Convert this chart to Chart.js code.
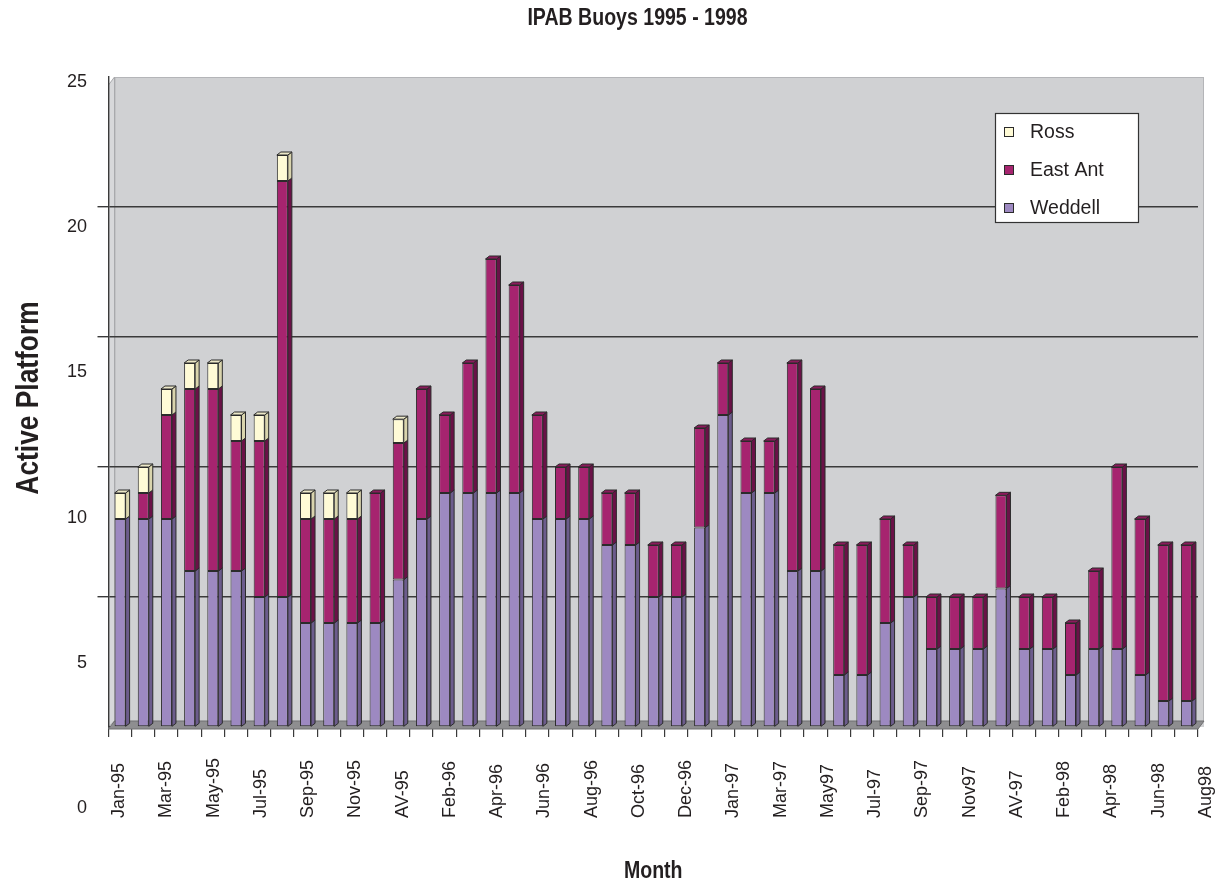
<!DOCTYPE html>
<html>
<head>
<meta charset="utf-8">
<title>IPAB Buoys 1995 - 1998</title>
<script src="https://cdn.jsdelivr.net/npm/chart.js@4.4.1/dist/chart.umd.min.js"></script>
<style>
  html, body { margin: 0; padding: 0; background: #ffffff; }
  canvas { display: block; }
</style>
</head>
<body>
<canvas id="chart" width="1222" height="886"></canvas>
<script>
// Monthly counts of active drifting buoys per sector, with a yearly average column (AV-yy).
const categories = [
  'Jan-95','Feb-95','Mar-95','Apr-95','May-95','Jun-95','Jul-95','Aug-95','Sep-95','Oct-95','Nov-95','Dec-95','AV-95',
  'Jan-96','Feb-96','Mar-96','Apr-96','May-96','Jun-96','Jul-96','Aug-96','Sep-96','Oct-96','Nov-96','Dec-96','AV-96',
  'Jan-97','Feb-97','Mar-97','Apr-97','May97','Jun-97','Jul-97','Aug-97','Sep-97','Oct-97','Nov97','Dec-97','AV-97',
  'Jan-98','Feb-98','Mar-98','Apr-98','May-98','Jun-98','Jul-98','Aug98'
];

const weddell = [
  8, 8, 8, 6, 6, 6, 5, 5, 4, 4, 4, 4, 5.67,
  8, 9, 9, 9, 9, 8, 8, 8, 7, 7, 5, 5, 7.67,
  12, 9, 9, 6, 6, 2, 2, 4, 5, 3, 3, 3, 5.33,
  3, 3, 2, 3, 3, 2, 1, 1
];

const eastAnt = [
  0, 1, 4, 7, 7, 5, 6, 16, 4, 4, 4, 5, 5.25,
  5, 3, 5, 9, 8, 4, 2, 2, 2, 2, 2, 2, 3.83,
  2, 2, 2, 8, 7, 5, 5, 4, 2, 2, 2, 2, 3.58,
  2, 2, 2, 3, 7, 6, 6, 6
];

const ross = [
  1, 1, 1, 1, 1, 1, 1, 1, 1, 1, 1, 0, 0.92,
  0, 0, 0, 0, 0, 0, 0, 0, 0, 0, 0, 0, 0,
  0, 0, 0, 0, 0, 0, 0, 0, 0, 0, 0, 0, 0,
  0, 0, 0, 0, 0, 0, 0, 0
];

// Value labels printed along the front edge of the floor.
const valueTicks = [0, 5, 10, 15, 20, 25];

const SANS = "'Liberation Sans', Arial, sans-serif";
const INK = '#231f20';
const EDGE = '#2b2b2b';
const WALL = '#d0d1d3';
const FLOOR = '#8e8e90';
const GRID = '#3a3a3a';

// Extrusion of each column and of the walls.
const BAR_DX = 4, BAR_DY = 3;
const WALL_DX = 6, WALL_DY = 6;

function poly(ctx, pts, fill, stroke) {
  ctx.beginPath();
  ctx.moveTo(pts[0][0], pts[0][1]);
  for (let i = 1; i < pts.length; i++) ctx.lineTo(pts[i][0], pts[i][1]);
  ctx.closePath();
  if (fill) { ctx.fillStyle = fill; ctx.fill(); }
  if (stroke) { ctx.strokeStyle = stroke; ctx.stroke(); }
}

// Bold condensed caption text (narrow face emulated by a horizontal squeeze).
function narrowText(ctx, text, x, y, size, rotate) {
  ctx.save();
  ctx.translate(x, y);
  if (rotate) ctx.rotate(-Math.PI / 2);
  ctx.scale(0.85, 1);
  ctx.font = `bold ${size}px ${SANS}`;
  ctx.fillStyle = INK;
  ctx.textAlign = 'center';
  ctx.textBaseline = 'middle';
  ctx.fillText(text, 0, 0);
  ctx.restore();
}

// Back wall, left wall and page background.
const walls = {
  id: 'walls',
  beforeDraw(chart) {
    const {ctx, chartArea: a} = chart;
    ctx.save();
    ctx.fillStyle = '#ffffff';
    ctx.fillRect(0, 0, chart.width, chart.height);
    ctx.fillStyle = WALL;
    ctx.fillRect(a.left + WALL_DX, a.top, a.right - a.left, a.bottom - a.top);
    ctx.lineWidth = 1;
    ctx.strokeStyle = '#b4b5b8';
    ctx.strokeRect(a.left + WALL_DX + 0.5, a.top + 0.5, a.right - a.left - 1, a.bottom - a.top - WALL_DY);
    poly(ctx, [[a.left, a.top + WALL_DY + 2], [a.left + WALL_DX, a.top], [a.left + WALL_DX, a.bottom - WALL_DY], [a.left, a.bottom]], '#d7d8da', '#a8a9ac');
    ctx.restore();
  },
  beforeDatasetsDraw(chart) {
    const {ctx, chartArea: a} = chart;
    ctx.save();
    ctx.lineWidth = 1;
    poly(ctx, [[a.left, a.bottom + 2], [a.left + WALL_DX, a.bottom - WALL_DY], [a.right + WALL_DX, a.bottom - WALL_DY], [a.right, a.bottom + 2]], FLOOR, '#6f6f71');
    ctx.restore();
  }
};

// Side and top faces of the stacked columns.
const columns3d = {
  id: 'columns3d',
  afterDatasetsDraw(chart) {
    const ctx = chart.ctx;
    const sets = chart.data.datasets;
    ctx.save();
    ctx.lineWidth = 1;
    ctx.lineJoin = 'round';
    for (let j = 0; j < chart.data.labels.length; j++) {
      let last = null;
      sets.forEach((ds, i) => {
        const bar = chart.getDatasetMeta(i).data[j];
        if (!bar || !ds.data[j]) return;
        const p = bar.getProps(['x', 'y', 'base', 'width'], true);
        const r = p.x + p.width / 2;
        const top = Math.min(p.y, p.base), bot = Math.max(p.y, p.base);
        poly(ctx, [[r, bot], [r + BAR_DX, bot - BAR_DY], [r + BAR_DX, top - BAR_DY], [r, top]], ds.sideColor, EDGE);
        last = {p, top, ds};
      });
      if (last) {
        const l = last.p.x - last.p.width / 2, r = last.p.x + last.p.width / 2, t = last.top;
        poly(ctx, [[l, t], [l + BAR_DX, t - BAR_DY], [r + BAR_DX, t - BAR_DY], [r, t]], last.ds.topColor, EDGE);
      }
    }
    ctx.restore();
  }
};

// Month names under the floor, every second column, reading upwards.
const monthLabels = {
  id: 'monthLabels',
  afterDraw(chart, args, opts) {
    const ctx = chart.ctx;
    const front = chart.scales.xFront;
    const y0 = chart.scales.x.top + opts.drop;
    ctx.save();
    ctx.font = `${opts.size}px ${SANS}`;
    ctx.fillStyle = INK;
    ctx.textAlign = 'left';
    ctx.textBaseline = 'middle';
    categories.forEach((c, i) => {
      if (i % 2) return;
      ctx.save();
      ctx.translate(front.getPixelForValue(i), y0);
      ctx.rotate(-Math.PI / 2);
      ctx.fillText(c, 0, 0);
      ctx.restore();
    });
    ctx.restore();
  }
};

// Boxed legend inside the plot, top series first.
const legendBox = {
  id: 'legendBox',
  afterDraw(chart, args, opts) {
    const {ctx, chartArea: a} = chart;
    const x = a.right - opts.offsetRight, y = a.top + opts.offsetTop;
    ctx.save();
    ctx.fillStyle = '#ffffff';
    ctx.fillRect(x, y, opts.w, opts.h);
    ctx.lineWidth = 1.2;
    ctx.strokeStyle = '#333333';
    ctx.strokeRect(x + 0.5, y + 0.5, opts.w, opts.h);
    ctx.font = `${opts.size}px ${SANS}`;
    ctx.textBaseline = 'middle';
    ctx.textAlign = 'left';
    const items = chart.data.datasets.slice().reverse();
    items.forEach((ds, k) => {
      const cy = y + opts.firstRow + k * opts.rowGap;
      ctx.fillStyle = ds.backgroundColor;
      ctx.fillRect(x + 9.5, cy - 4.5, 9, 9);
      ctx.lineWidth = 1;
      ctx.strokeStyle = EDGE;
      ctx.strokeRect(x + 9.5, cy - 4.5, 9, 9);
      ctx.fillStyle = INK;
      ctx.fillText(ds.label, x + 35, cy + 1);
    });
    ctx.restore();
  }
};

// Chart heading and axis captions.
const captions = {
  id: 'captions',
  afterDraw(chart, args, opts) {
    const ctx = chart.ctx;
    const a = chart.chartArea;
    narrowText(ctx, opts.title, opts.titleX, opts.titleY, 23, false);
    narrowText(ctx, opts.xTitle, (a.left + a.right) / 2, chart.height - opts.xTitleDrop, 23, false);
    narrowText(ctx, opts.yTitle, opts.yTitleX, (a.top + a.bottom) / 2 - 4, 31, true);
  }
};

const barStyle = {
  borderColor: EDGE,
  borderWidth: 1,
  borderSkipped: false,
  barPercentage: 0.475,
  categoryPercentage: 1.0,
  xAxisID: 'x',
  yAxisID: 'y'
};

new Chart(document.getElementById('chart'), {
  type: 'bar',
  data: {
    labels: categories,
    datasets: [
      Object.assign({label: 'Weddell', data: weddell, backgroundColor: '#9d89c1', sideColor: '#6c5c8c', topColor: '#b7a8d6'}, barStyle),
      Object.assign({label: 'East Ant', data: eastAnt, backgroundColor: '#a6246f', sideColor: '#6a1147', topColor: '#8c1a5c'}, barStyle),
      Object.assign({label: 'Ross', data: ross, backgroundColor: '#fffbd6', sideColor: '#d9d4ad', topColor: '#ece8c8'}, barStyle)
    ]
  },
  options: {
    responsive: false,
    animation: false,
    events: [],
    layout: { padding: { top: 77, right: 24, bottom: 0, left: 0 } },
    scales: {
      x: {
        type: 'category',
        position: 'bottom',
        weight: 0,
        stacked: true,
        offset: true,
        ticks: { display: false },
        grid: { display: true, offset: true, drawOnChartArea: false, drawTicks: true, tickLength: 10, color: GRID, lineWidth: 1.2 },
        border: { display: true, color: '#4a4a4a', width: 1.5 },
        afterFit(scale) { scale.height = 159; }
      },
      // front edge of the floor, slightly wider than the row of columns
      xFront: {
        type: 'linear',
        position: 'bottom',
        weight: 1,
        display: true,
        offset: false,
        bounds: 'data',
        beginAtZero: false,
        min: -0.453,
        max: 45.67,
        ticks: { display: false },
        grid: { display: false, drawTicks: false, offset: false },
        border: { display: false },
        afterFit(scale) { scale.height = 0; }
      },
      y: {
        type: 'linear',
        position: 'left',
        weight: 0,
        stacked: true,
        min: 0,
        max: 25,
        ticks: { display: false, stepSize: 5 },
        grid: {
          color: (c) => (c.tick && (c.tick.value === 0 || c.tick.value === 25)) ? 'rgba(0,0,0,0)' : GRID,
          lineWidth: 1.4,
          tickLength: 11,
          drawTicks: true
        },
        border: { display: true, color: GRID, width: 1.4 },
        afterFit(scale) { scale.width = 11.5; }
      },
      yFront: {
        type: 'linear',
        position: 'left',
        weight: 1,
        min: 2.80,
        max: 25.17,
        afterBuildTicks(scale) { scale.ticks = valueTicks.map(v => ({ value: v })); },
        ticks: { color: INK, font: { family: SANS, size: 18 }, padding: 10, autoSkip: false },
        grid: { display: false, drawTicks: false },
        border: { display: false },
        afterFit(scale) { scale.width = 97; }
      }
    },
    plugins: {
      legend: { display: false },
      title: { display: false },
      tooltip: { enabled: false },
      monthLabels: { size: 18, drop: 91 },
      legendBox: { offsetRight: 203, offsetTop: 36, w: 143, h: 109, firstRow: 19, rowGap: 38, size: 19.5 },
      captions: {
        title: 'IPAB Buoys 1995 - 1998', titleX: 637.5, titleY: 18.5,
        xTitle: 'Month', xTitleDrop: 14,
        yTitle: 'Active Platform', yTitleX: 29.5
      }
    }
  },
  plugins: [walls, columns3d, monthLabels, legendBox, captions]
});
</script>
</body>
</html>
